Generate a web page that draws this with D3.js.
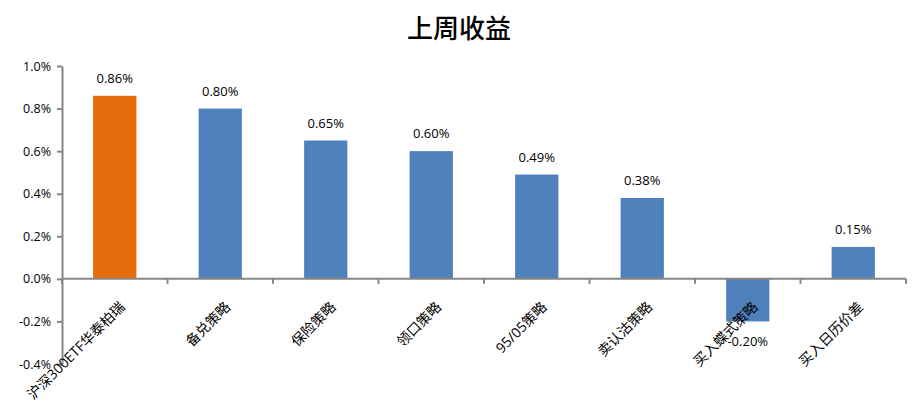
<!DOCTYPE html>
<html>
<head>
<meta charset="utf-8">
<script src="https://cdn.jsdelivr.net/npm/d3@7"></script>
<style>
  body { margin: 0; background: #fff; }
  text { font-family: "Open Sans", "Noto Sans CJK SC", sans-serif; }
</style>
</head>
<body>
<div id="maindiv"></div>
<script>
// data
var categories = ["沪深300ETF华泰柏瑞", "备兑策略", "保险策略", "领口策略", "95/05策略", "卖认沽策略", "买入蝶式策略", "买入日历价差"];
var returns = [0.86, 0.80, 0.65, 0.60, 0.49, 0.38, -0.20, 0.15];
var barColors = ["#E46C0A", "#4F81BD", "#4F81BD", "#4F81BD", "#4F81BD", "#4F81BD", "#4F81BD", "#4F81BD"];
var yTicks = [-0.4, -0.2, 0, 0.2, 0.4, 0.6, 0.8, 1.0];

var width = 918;
var height = 411;
var margin = { top: 66, bottom: 47, left: 62, right: 12 };

var svg = d3.select("#maindiv")
    .append("svg")
    .attr("width", width)
    .attr("height", height);

var x = d3.scaleBand()
    .domain(d3.range(categories.length))
    .range([margin.left, width - margin.right])
    .paddingInner(0.59)
    .paddingOuter(0.295);

var band = d3.scaleBand()
    .domain(d3.range(categories.length))
    .range([margin.left, width - margin.right]);

var y = d3.scaleLinear()
    .domain([-0.4, 1.0])
    .range([height - margin.bottom, margin.top]);

// title
svg.append("text")
    .attr("x", width / 2)
    .attr("y", 38)
    .attr("text-anchor", "middle")
    .style("font-family", "'Noto Sans CJK SC', sans-serif")
    .style("font-size", "26px")
    .style("font-weight", "500")
    .attr("fill", "#000")
    .text("上周收益");

// bars
svg.append("g")
    .selectAll("rect")
    .data(returns)
    .enter()
    .append("rect")
    .attr("x", (d, i) => x(i))
    .attr("y", d => y(Math.max(d, 0)))
    .attr("width", x.bandwidth())
    .attr("height", d => Math.abs(y(d) - y(0)))
    .attr("fill", (d, i) => barColors[i]);

// y axis
var yAxis = svg.append("g")
    .attr("transform", `translate(${margin.left},0)`)
    .call(d3.axisLeft(y).tickValues(yTicks).tickSize(5).tickSizeOuter(0).tickPadding(6)
        .tickFormat(d => d.toFixed(1) + "%"));
yAxis.selectAll("line").attr("stroke", "#868686").attr("stroke-width", 2);
yAxis.select(".domain").attr("stroke", "#868686").attr("stroke-width", 2);
yAxis.selectAll("text").style("font-size", "12.5px").attr("fill", "#000");

// x axis along zero, ticks at category borders
var xg = svg.append("g").attr("transform", `translate(0,${y(0)})`);
xg.append("line")
    .attr("x1", margin.left).attr("x2", width - margin.right)
    .attr("stroke", "#868686").attr("stroke-width", 2);
xg.selectAll(".tk")
    .data(d3.range(categories.length + 1))
    .enter()
    .append("line")
    .attr("x1", i => i < categories.length ? band(i) : width - margin.right)
    .attr("x2", i => i < categories.length ? band(i) : width - margin.right)
    .attr("y1", 0).attr("y2", 5)
    .attr("stroke", "#868686").attr("stroke-width", 2);

// rotated category labels
svg.append("g")
    .selectAll("text")
    .data(categories)
    .enter()
    .append("text")
    .attr("transform", (d, i) => `translate(${x(i) + x.bandwidth() / 2 + 11},${y(0) + 29}) rotate(-45)`)
    .attr("text-anchor", "end")
    .style("font-size", "14px")
    .attr("fill", "#000")
    .text(d => d);

// value labels
svg.append("g")
    .selectAll("text")
    .data(returns)
    .enter()
    .append("text")
    .attr("x", (d, i) => x(i) + x.bandwidth() / 2)
    .attr("y", d => d >= 0 ? y(d) - 13 : y(d) + 25)
    .attr("text-anchor", "middle")
    .style("font-size", "13px")
    .attr("fill", "#000")
    .text(d => d.toFixed(2) + "%");
</script>
</body>
</html>
